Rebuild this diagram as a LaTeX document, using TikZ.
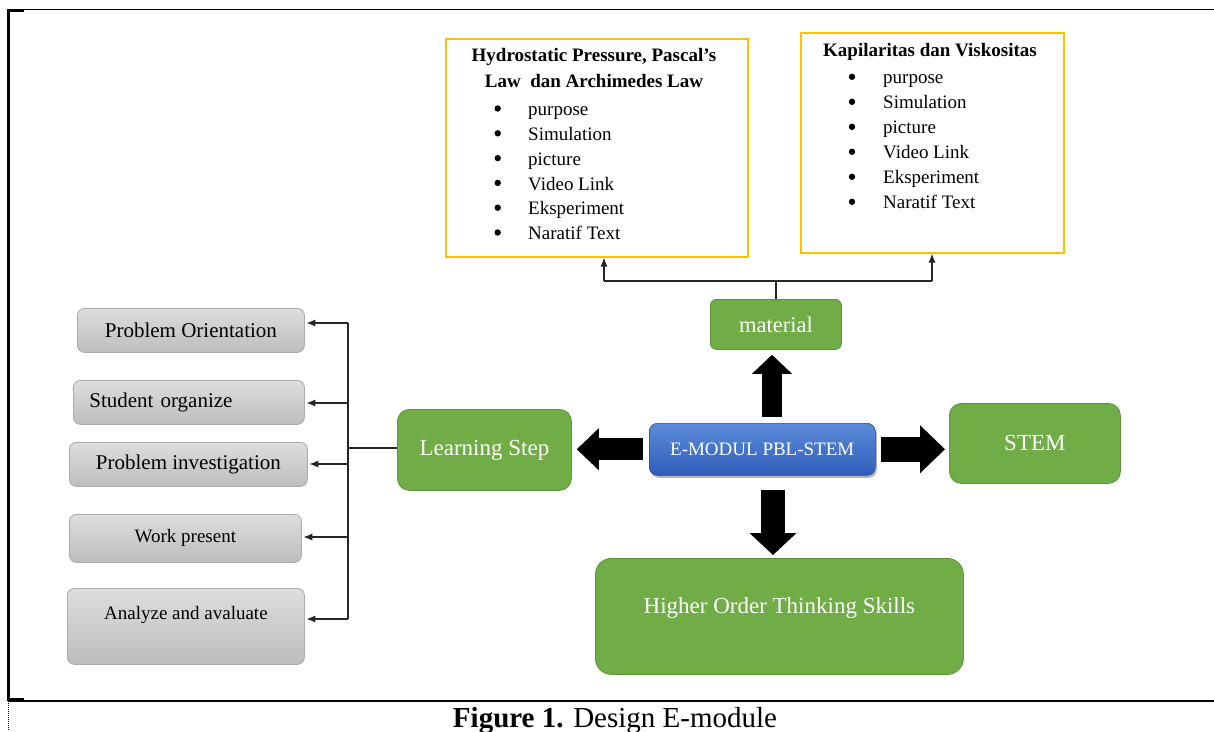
\documentclass[tikz,border=0pt]{standalone}
\usepackage{fontspec}
\setmainfont{Liberation Serif}
\usetikzlibrary{arrows.meta,shadows,calc}
\definecolor{grn}{HTML}{70AD47}
\definecolor{grnb}{HTML}{5E9440}
\definecolor{ylw}{HTML}{FFC000}
\definecolor{gtop}{HTML}{DDDDDD}
\definecolor{gbot}{HTML}{BDBDBD}
\definecolor{gbd}{HTML}{ABABAB}
\definecolor{btop}{HTML}{5D8BD9}
\definecolor{bbot}{HTML}{2E5DB9}
\definecolor{lnc}{HTML}{262626}
\newcommand\fsz[2]{\fontsize{#1}{#2}\selectfont}
\tikzset{
  box/.style={anchor=north west, inner sep=0pt, align=center},
  graybox/.style={box, rounded corners=7pt, draw=gbd, top color=gtop, bottom color=gbot, line width=0.8pt, text=black},
  greenbox/.style={box, rounded corners=12pt, draw=grnb, fill=grn, line width=0.8pt, text=white},
  bluebox/.style={box, rounded corners=8pt, draw=bbot!80!black, line width=0.5pt, top color=btop, bottom color=bbot, text=white,
    drop shadow={fill=black, opacity=0.3, shadow xshift=1.5pt, shadow yshift=-2.5pt}},
  ybox/.style={anchor=north west, inner sep=0pt, draw=ylw, line width=1.5pt},
  thinline/.style={draw=lnc, line width=1.2pt},
  arr/.style={thinline, -{Latex[length=9pt,width=7pt]}},
  blkarrow/.style args={#1/#2/#3}{draw=black, line width=#1, -{Triangle[length=#2,width=#3,line width=0pt]}},
  txt/.style={inner sep=0pt},
  bulletdot/.style={fill=black},
}
\begin{document}
\begin{tikzpicture}[x=1pt,y=-1pt]
\useasboundingbox (0,0) rectangle (1214,731);
% frame
\draw[line width=1.4pt] (8,9.5) -- (1214,9.5);
\draw[line width=1.4pt] (8,701) -- (1214,701);
\draw[line width=2.6pt] (8.7,9) -- (8.7,701);
\draw[line width=2.4pt] (8,10.6) -- (24,10.6);
\draw[line width=2.4pt] (8,699.6) -- (24,699.6);
\draw[line width=0.9pt, dash pattern=on 1pt off 1pt] (8.7,703) -- (8.7,731);

% material boxes
\node[ybox, minimum width=302pt, minimum height=218pt] (hydro) at (445,38) {};
\node[ybox, minimum width=263pt, minimum height=220pt] (kap) at (800,32) {};
\node[txt, anchor=north, font=\fsz{19}{26.5}\bfseries] (hydrot) at (594,42.4)
  {\begin{tabular}{@{}c@{}}Hydrostatic Pressure, Pascal’s\\Law\ \ dan Archimedes Law\end{tabular}};
\node[txt, anchor=north west, font=\fsz{19}{24.8}] (hydrol) at (528,98.1)
  {\begin{tabular}{@{}l@{}}purpose\\Simulation\\picture\\Video Link\\Eksperiment\\Naratif Text\end{tabular}};
\foreach \k in {0,...,5} \fill[bulletdot] (497.7,{108.5+24.8*\k}) circle (3.2pt);
\node[txt, anchor=base, font=\fsz{19}{19}\bfseries] (kapt) at (930,56) {Kapilaritas dan Viskositas};
\node[txt, anchor=north west, font=\fsz{19}{25}] (kapl) at (883,65.8)
  {\begin{tabular}{@{}l@{}}purpose\\Simulation\\picture\\Video Link\\Eksperiment\\Naratif Text\end{tabular}};
\foreach \k in {0,...,5} \fill[bulletdot] (852,{76.8+25*\k}) circle (3.2pt);

% green / blue boxes
\node[greenbox, rounded corners=6pt, minimum width=131pt, minimum height=50pt, font=\fsz{22.5}{22.5}] (mat) at (710,299) {material};
\node[greenbox, minimum width=174pt, minimum height=81pt, font=\fsz{23}{23}] (ls) at (397,409) {Learning Step};
\node[greenbox, minimum width=171pt, minimum height=80pt, font=\fsz{23}{23}] (stem) at (949,403) {STEM};
\node[greenbox, rounded corners=16pt, minimum width=368pt, minimum height=116pt, text height=55pt, text depth=61pt, font=\fsz{23}{23}] (hots) at (595,558) {Higher Order Thinking Skills};
\node[bluebox, minimum width=226pt, minimum height=52pt, font=\fsz{19}{19}] (emod) at (649,423) {E-MODUL PBL-STEM};

% gray boxes
\node[graybox, minimum width=227pt, minimum height=44pt, font=\fsz{21}{21}] (po) at (77,308) {Problem Orientation};
\node[graybox, minimum width=231pt, minimum height=44pt, text width=199pt, align=left, inner xsep=16pt, font=\fsz{21}{21}] (so) at (73,380) {Student organize};
\node[graybox, minimum width=238pt, minimum height=44pt, font=\fsz{21}{21}] (pi) at (69,442) {Problem investigation};
\node[graybox, minimum width=232pt, minimum height=48pt, font=\fsz{19}{19}] (wp) at (69,514) {Work present};
\node[graybox, minimum width=237pt, minimum height=76pt, text height=31.3pt, text depth=44.7pt, font=\fsz{19}{19}] (ae) at (67,588) {Analyze and avaluate};

% caption
\node[txt, anchor=base, font=\fsz{29}{29}] (cap) at (615,727) {\textbf{Figure 1.} Design E-module};

% big block arrows
\coordinate (ux) at (772,0);
\coordinate (dx) at (773,0);
\draw[blkarrow=20pt/19pt/40pt, shorten <=6pt, shorten >=5pt] (ux |- emod.north) -- (ux |- mat.south);
\draw[blkarrow=22pt/22pt/42pt, shorten <=6pt, shorten >=5pt] (emod.west) -- (emod.west -| ls.east);
\draw[blkarrow=25pt/25pt/48pt, shorten <=5pt, shorten >=4pt] (emod.east) -- (emod.east -| stem.west);
\draw[blkarrow=24pt/22pt/47pt, shorten <=14pt, shorten >=3pt] (dx |- emod.south) -- (dx |- hots.north);

% material connectors
\coordinate (mj) at (775.5,281);
\coordinate (hj) at (604,281);
\coordinate (kj) at (932,281);
\draw[thinline] (mat.north) -- (mat.north |- mj);
\draw[thinline] (hj) -- (kj);
\draw[arr] (hj) -- (hj |- hydro.south);
\draw[arr] (kj) -- (kj |- kap.south);

% learning step bus
\coordinate (bx) at (348,448);
\coordinate (btop) at (348,323);
\coordinate (bbot) at (348,619);
\draw[thinline] (ls.west |- bx) -- (bx);
\draw[thinline] (btop) -- (bbot);
\foreach \y/\n in {323/po, 403/so, 464/pi, 537/wp, 619/ae} {
  \coordinate (t\n) at (348,\y);
  \draw[arr, shorten >=1.5pt] (t\n) -- (t\n -| \n.east);
}
\end{tikzpicture}
\end{document}
